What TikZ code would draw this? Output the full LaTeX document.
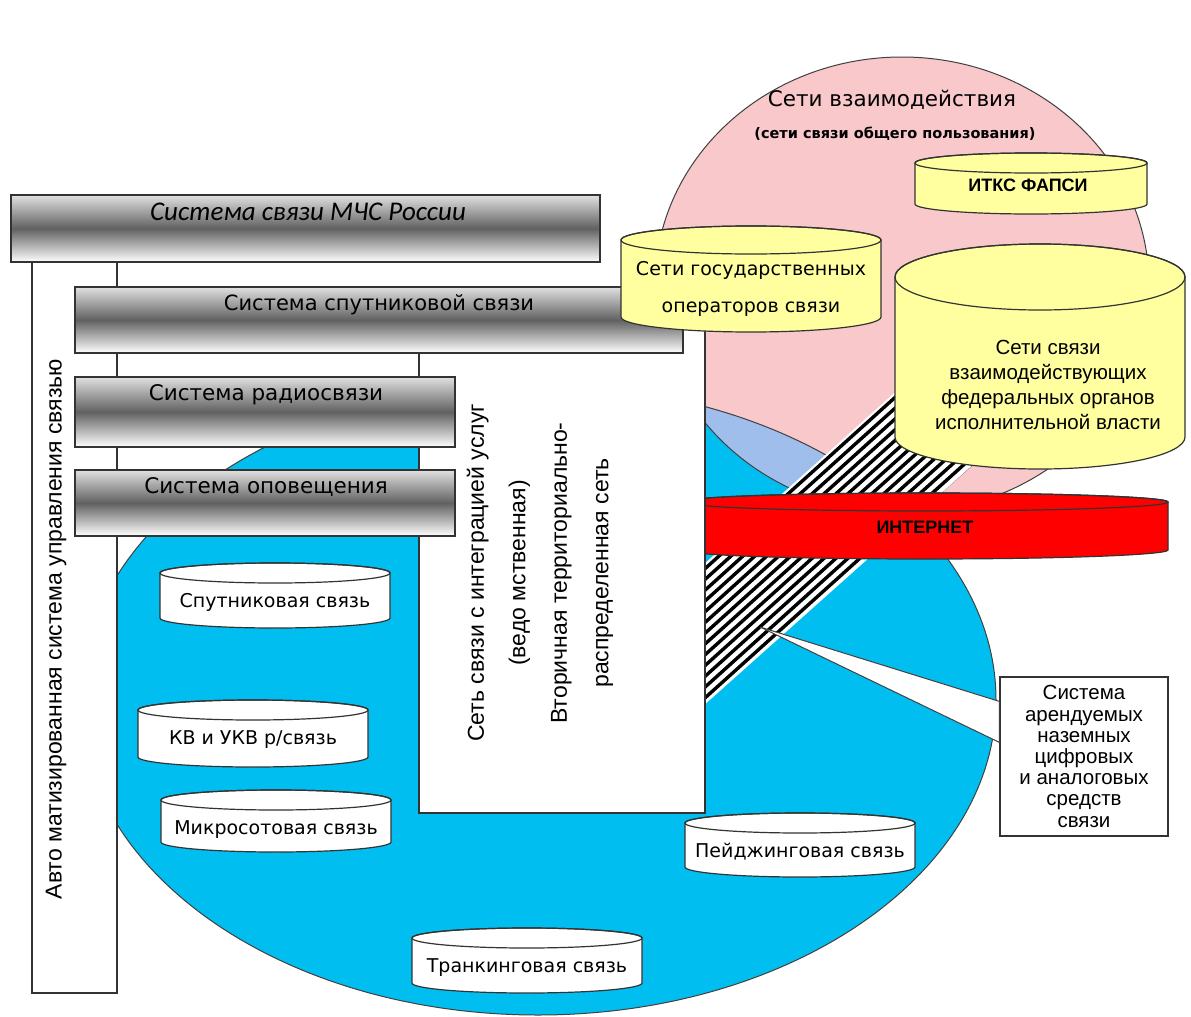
\documentclass[tikz,border=0pt]{standalone}
\usepackage{fontspec}
\setmainfont{Liberation Sans}
\newfontfamily\verdana{DejaVu Sans}
\newfontfamily\calibri{Carlito}
\usetikzlibrary{calc}

\definecolor{seablue}{RGB}{0,191,240}
\definecolor{rosepink}{RGB}{248,200,203}
\definecolor{lensblue}{RGB}{160,190,235}
\definecolor{paleyellow}{RGB}{255,255,160}
\definecolor{netred}{RGB}{255,0,0}

\begin{document}
\begin{tikzpicture} [
  x = 1pt,
  y = -1pt,
  outline/.style = {draw = black!80, line width = 1.2},
  metal/.style = {outline, top color = black!12, bottom color = white, middle color = black!62},
  onel/.style = {inner sep = 0, text height = 0.73em, text depth = 0pt},
  boxtext/.style = {onel, font = \verdana\fontsize{21.5}{26}\selectfont},
  drumtext/.style = {onel, font = \verdana\fontsize{19}{23}\selectfont},
  armtext/.style = {inner sep = 0, align = center},
]
\useasboundingbox (0, 0) rectangle (1191, 1017);

% the two network areas
\fill [seablue] (538, 700) ellipse [x radius = 458, y radius = 315];
\fill [rosepink] (902, 285) ellipse [x radius = 247, y radius = 228];
\begin{scope}
  \clip (538, 700) ellipse [x radius = 458, y radius = 315];
  \fill [lensblue] (902, 285) ellipse [x radius = 247, y radius = 228];
\end{scope}
\draw [black!75, line width = 1] (538, 700) ellipse [x radius = 458, y radius = 315];
\draw [black!75, line width = 1] (902, 285) ellipse [x radius = 247, y radius = 228];

% leased channels as a striped band
\begin{scope}
  \clip (634, 627) -- (932, 359) -- (1020, 423) -- (647, 756) -- cycle;
  \fill [white] (600, 300) rectangle (1060, 800);
  \foreach \d in {4, 12, ..., 108}
    \draw [line width = 3.4] (783 + 0.669*\d - 334, 493 + 0.743*\d + 301) -- (783 + 0.669*\d + 334, 493 + 0.743*\d - 301);
\end{scope}

% Internet
\filldraw [outline, fill = netred] (682, 502) -- (682, 550) arc [start angle = 180, end angle = 0, x radius = 243, y radius = 9] -- (1168, 502) arc [start angle = 0, end angle = -180, x radius = 243, y radius = 9] -- cycle;
\draw [outline] (925, 502) ellipse [x radius = 243, y radius = 9];
\node [onel, font = \bfseries\fontsize{18}{22}\selectfont] (inet) at (925, 530) {ИНТЕРНЕТ};

% departmental network
\filldraw [outline, fill = white] (419, 300) rectangle (705, 813);
\node [armtext, rotate = 90, font = \fontsize{23}{41.5}\selectfont] (dept) at (540, 573) {Сеть связи с интеграцией услуг\\(ведо мственная)\\Вторичная территориально-\\распределенная сеть};

% control system and its subsystems
\filldraw [outline, fill = white] (32, 262) rectangle (117, 993);
\node [onel, rotate = 90, font = \fontsize{23}{28}\selectfont] (asu) at (58, 629) {Авто матизированная система управления связью};
\draw [metal] (11, 195) rectangle (600, 262);
\node [onel, font = \calibri\itshape\fontsize{27}{30}\selectfont] (mchs) at (308, 217) {Система связи МЧС России};
\draw [metal] (75, 287) rectangle (683, 353);
\node [boxtext, font = \verdana\fontsize{21}{26}\selectfont] (satsys) at (379, 307) {Система спутниковой связи};
\draw [metal] (75, 377) rectangle (455, 447);
\node [boxtext] (radiosys) at (266, 397) {Система радиосвязи};
\draw [metal] (75, 470) rectangle (455, 536);
\node [boxtext] (alertsys) at (266, 490) {Система оповещения};

% public networks
\filldraw [outline, fill = paleyellow] (621, 240) -- (621, 317) arc [start angle = 180, end angle = 0, x radius = 130, y radius = 15] -- (881, 240) arc [start angle = 0, end angle = -180, x radius = 130, y radius = 14] -- cycle;
\draw [outline] (751, 240) ellipse [x radius = 130, y radius = 14];
\node [armtext, font = \verdana\fontsize{19}{37}\selectfont] (stateops) at (751, 289) {Сети государственных\\операторов связи};

\filldraw [outline, fill = paleyellow] (915, 163) -- (915, 204) arc [start angle = 180, end angle = 0, x radius = 116, y radius = 10] -- (1147, 163) arc [start angle = 0, end angle = -180, x radius = 116, y radius = 10] -- cycle;
\draw [outline] (1031, 163) ellipse [x radius = 116, y radius = 10];
\node [onel, font = \bfseries\fontsize{18}{22}\selectfont] (itks) at (1028, 188) {ИТКС ФАПСИ};

\filldraw [outline, fill = paleyellow] (895, 277) -- (895, 437) arc [start angle = 180, end angle = 0, x radius = 145, y radius = 32] -- (1185, 277) arc [start angle = 0, end angle = -180, x radius = 145, y radius = 33] -- cycle;
\draw [outline] (1040, 277) ellipse [x radius = 145, y radius = 33];
\node [armtext, font = \fontsize{20.5}{25}\selectfont] (federal) at (1048, 385) {Сети связи\\взаимодействующих\\федеральных органов\\исполнительной власти};

\node [onel, font = \verdana\fontsize{21.5}{26}\selectfont] (interact) at (892, 103) {Сети взаимодействия};
\node [onel, font = \verdana\bfseries\fontsize{14.5}{16}\selectfont] (public) at (895, 135) {(сети связи общего пользования)};

% radio services
\foreach \cx/\ty/\by/\lbl/\txt in {
  275/573/618/sat/{Спутниковая связь},
  253/710/757/hf/{КВ и УКВ р/связь},
  276/800/842/micro/{Микросотовая связь},
  800/823/867/pager/{Пейджинговая связь},
  527/938/983/trunk/{Транкинговая связь}
} {
  \filldraw [outline, fill = white] (\cx - 115, \ty) -- (\cx - 115, \by) arc [start angle = 180, end angle = 0, x radius = 115, y radius = 10] -- (\cx + 115, \ty) arc [start angle = 0, end angle = -180, x radius = 115, y radius = 10] -- cycle;
  \draw [outline] (\cx, \ty) ellipse [x radius = 115, y radius = 10];
  \node [drumtext] (\lbl) at (\cx, \ty + 31) {\txt};
}

% leased channels callout
\node [outline, fill = white, armtext, minimum width = 168, minimum height = 159, font = \fontsize{20.5}{21.2}\selectfont] (rent) at (1084, 756.5) {Система\\арендуемых\\наземных\\цифровых\\и аналоговых\\средств\\связи};
\coordinate (tip) at (760, 627);
\filldraw [fill = white, draw = black!75, line width = 1] (tip) -- ($(rent.north west) + (0, 25)$) -- ($(rent.north west) + (0, 66)$) -- cycle;
\end{tikzpicture}
\end{document}
